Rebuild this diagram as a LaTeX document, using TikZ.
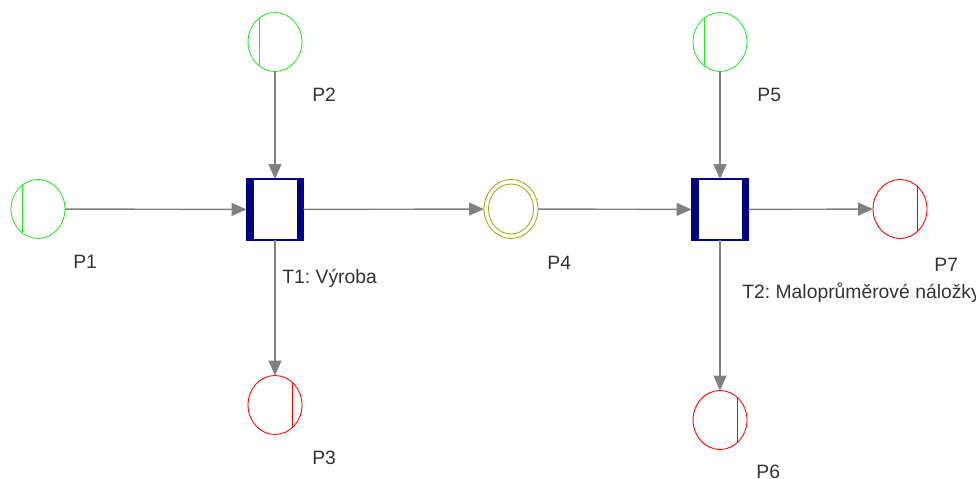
\documentclass[tikz,border=0pt]{standalone}
\usepackage{fontspec}
\setmainfont{Liberation Sans}
\usetikzlibrary{arrows.meta,shapes.geometric}

\definecolor{placegreen}{RGB}{40,230,40}
\definecolor{placered}{RGB}{255,0,0}
\definecolor{placeolive}{RGB}{165,165,20}
\definecolor{transblue}{RGB}{0,0,128}
\definecolor{flowgray}{RGB}{128,128,128}

\tikzset{
  place/.style={ellipse, draw, line width=0.5pt, minimum width=1.08cm,
    minimum height=1.18cm, inner sep=0pt, outer sep=0pt},
  srcplace/.style={place, draw=placegreen, path picture={
    \draw[placegreen, line width=0.45pt] ([xshift=-0.32cm]path picture bounding box.north)
      -- ([xshift=-0.32cm]path picture bounding box.south);}},
  sinkplace/.style={place, draw=placered, path picture={
    \draw[placered, line width=0.45pt] ([xshift=0.34cm]path picture bounding box.north)
      -- ([xshift=0.34cm]path picture bounding box.south);}},
  midplace/.style={place, draw=placeolive, path picture={
    \draw[placeolive, line width=0.5pt] (path picture bounding box.center) ellipse (0.45cm and 0.5cm);}},
  trans/.style={rectangle, draw=transblue, line width=1pt, fill=white,
    minimum width=1.14cm, minimum height=1.22cm, inner sep=0pt, outer sep=0pt},
  flow/.style={draw=flowgray, line width=0.8pt, -{Triangle[length=0.3cm,width=0.26cm]}},
  lbl/.style={anchor=west, inner sep=0pt, text=black!80, font=\fontsize{11}{13}\selectfont}
}

\begin{document}
\frenchspacing
\begin{tikzpicture}[x=0.02cm, y=-0.02cm]
  \useasboundingbox (0,0) rectangle (976,479);

  % Places and transitions
  \node[srcplace] (p1) at (38,209) {};
  \node[srcplace] (p2) at (275,42) {};
  \node[sinkplace] (p3) at (275,405) {};
  \node[midplace] (p4) at (511,209) {};
  \node[srcplace] (p5) at (720,42) {};
  \node[sinkplace] (p6) at (720,420) {};
  \node[sinkplace] (p7) at (900,209) {};
  \node[trans] (t1) at (275,209.5) {};
  \node[trans] (t2) at (720,209.5) {};

  % Thick side bars of the transitions
  \foreach \t in {t1,t2} {
    \fill[transblue] (\t.south west) rectangle ([xshift=0.14cm]\t.north west);
    \fill[transblue] ([xshift=-0.14cm]\t.south east) rectangle (\t.north east);
  }

  % Arcs
  \draw[flow] (p1) -- (t1);
  \draw[flow] (p2) -- (t1);
  \draw[flow] (t1) -- (p3);
  \draw[flow] (t1) -- (p4);
  \draw[flow] (p4) -- (t2);
  \draw[flow] (p5) -- (t2);
  \draw[flow] (t2) -- (p7);
  \draw[flow] (t2) -- (p6);

  % Labels
  \node[lbl] (p1lbl) at (73,262) {P1};
  \node[lbl] (p2lbl) at (312,95) {P2};
  \node[lbl] (p3lbl) at (312,458) {P3};
  \node[lbl] (p4lbl) at (547,263) {P4};
  \node[lbl] (p5lbl) at (757,95) {P5};
  \node[lbl] (p6lbl) at (756,472) {P6};
  \node[lbl] (p7lbl) at (934,265) {P7};
  \node[lbl] (t1lbl) at (282,278) {T1: Výroba};
  \node[lbl] (t2lbl) at (742,293) {T2: Maloprůměrové náložky};
\end{tikzpicture}
\end{document}
